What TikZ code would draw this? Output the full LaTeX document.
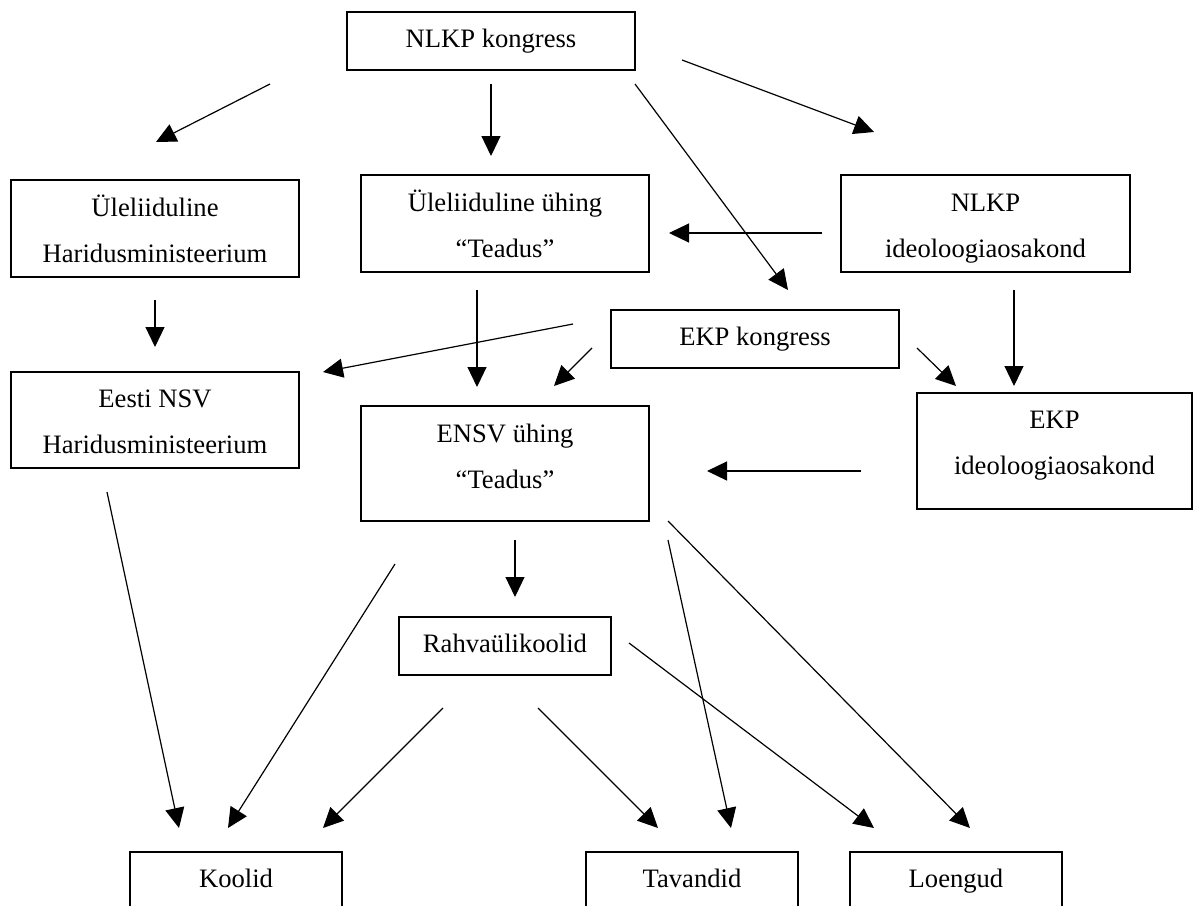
\documentclass[tikz,border=0pt]{standalone}
\usepackage{fontspec}
\setmainfont{Liberation Serif}
\usetikzlibrary{arrows.meta}
\newcommand{\mytop}{\rule{0pt}{28pt}}
\newcommand{\mybot}[1]{\rule[-#1]{0pt}{#1}}
\tikzset{
  box/.style={draw, line width=1.2pt, rectangle, inner sep=0pt, align=center,
    font=\fontsize{26.6}{46}\selectfont},
  onebox/.style={box, text height=19pt, text depth=7pt},
  arr/.style={line width=1.2pt, -{Triangle[length=20pt,width=19pt]}}
}
\begin{document}
\begin{tikzpicture}[x=1pt,y=-1pt]
\useasboundingbox (0,0) rectangle (1194,905);
\clip (0,0) rectangle (1194,905);
\fill[white] (0,0) rectangle (1194,905);

% boxes
\node[onebox, minimum width=288pt, minimum height=58pt] (nlkp) at (491,41) {NLKP kongress};
\node[box, minimum width=288pt, minimum height=97pt] (uhm) at (155,228.5) {\mytop Üleliiduline\\Haridusministeerium\mybot{7pt}};
\node[box, minimum width=288pt, minimum height=97pt] (uyt) at (505,223.5) {\mytop Üleliiduline ühing\\“Teadus”\mybot{7pt}};
\node[box, minimum width=289pt, minimum height=97pt] (nid) at (985.5,223.5) {\mytop NLKP\\ideoloogiaosakond\mybot{7pt}};
\node[onebox, minimum width=288pt, minimum height=58pt] (ekpk) at (755,339) {EKP kongress};
\node[box, minimum width=288pt, minimum height=96pt] (enm) at (155,420) {\mytop Eesti NSV\\Haridusministeerium\mybot{7pt}};
\node[box, minimum width=288pt, minimum height=115pt] (ensv) at (505,463.5) {\mytop ENSV ühing\\“Teadus”\mybot{25pt}};
\node[box, minimum width=275pt, minimum height=116pt] (eid) at (1054.5,451) {\mytop EKP\\ideoloogiaosakond\mybot{28pt}};
\node[onebox, minimum width=212pt, minimum height=58pt] (rahva) at (505,646) {Rahvaülikoolid};
\node[onebox, minimum width=212pt, minimum height=58pt] (koolid) at (236,881) {Koolid};
\node[onebox, minimum width=212pt, minimum height=58pt] (tav) at (692,881) {Tavandid};
\node[onebox, minimum width=212pt, minimum height=58pt] (loe) at (956,881) {Loengud};

% connector end points
\coordinate (s1) at (270,84);   \coordinate (e1) at (156,142);
\coordinate (s2) at (491,84);   \coordinate (e2) at (491,156);
\coordinate (s3) at (635,84);   \coordinate (e3) at (788,290);
\coordinate (s4) at (682,60);   \coordinate (e4) at (874,132);
\coordinate (s5) at (822,233);  \coordinate (e5) at (669,233);
\coordinate (s6) at (155,300);  \coordinate (e6) at (155,347);
\coordinate (s7) at (477,290);  \coordinate (e7) at (477,387);
\coordinate (s8) at (573,324);  \coordinate (e8) at (323,372);
\coordinate (s9) at (592,348);  \coordinate (e9) at (554,386);
\coordinate (s10) at (917,348); \coordinate (e10) at (956,386);
\coordinate (s11) at (1014,290);\coordinate (e11) at (1014,386);
\coordinate (s12) at (861,471); \coordinate (e12) at (707,471);
\coordinate (s13) at (107,492); \coordinate (e13) at (179,828);
\coordinate (s14) at (395,564); \coordinate (e14) at (228,828);
\coordinate (s15) at (515,540); \coordinate (e15) at (515,597);
\coordinate (s16) at (668,540); \coordinate (e16) at (731,828);
\coordinate (s17) at (668,521); \coordinate (e17) at (970,828);
\coordinate (s18) at (443,708); \coordinate (e18) at (323,828);
\coordinate (s19) at (538,708); \coordinate (e19) at (658,828);
\coordinate (s20) at (629,643); \coordinate (e20) at (874,828);

\foreach \i in {1,...,20} { \draw[arr] (s\i) -- (e\i); }
\end{tikzpicture}
\end{document}
